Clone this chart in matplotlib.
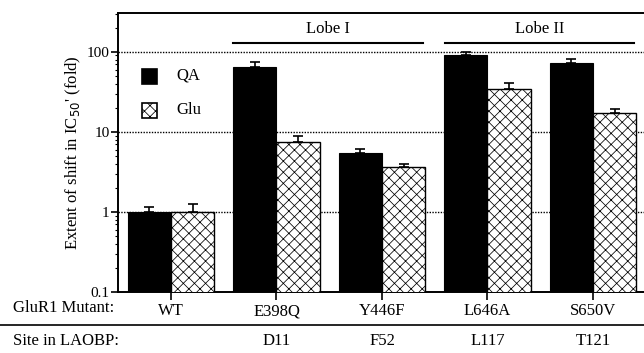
import matplotlib

matplotlib.use("Agg")
import matplotlib.pyplot as plt  # noqa: E402
import numpy as np  # noqa: E402
from matplotlib.lines import Line2D  # noqa: E402

mutants = ["WT", "E398Q", "Y446F", "L646A", "S650V"]
sites = ["", "D11", "F52", "L117", "T121"]
qa = [1.0, 65, 5.4, 92, 73]
qa_err = [0.15, 10, 0.7, 8, 9]
glu = [1.0, 7.4, 3.6, 34.5, 17.3]
glu_err = [0.26, 1.5, 0.4, 6.5, 1.8]

W, H = 644, 353
FS = 12
plt.rcParams.update({"font.family": "Liberation Serif", "hatch.linewidth": 0.55,
                     "hatch.color": "#222222"})

fig = plt.figure(figsize=(W / 100, H / 100), dpi=100)
fig.patch.set_facecolor("white")
ax = fig.add_axes([118 / W, (H - 292) / H, (646.5 - 118) / W, (292 - 13) / H])

x = np.arange(len(mutants))
bw = 0.41
ax.bar(x - bw / 2, qa, bw, color="black", edgecolor="black", lw=0.8, zorder=3,
       yerr=[np.zeros(len(qa)), qa_err], capsize=3.5,
       error_kw=dict(ecolor="black", elinewidth=1.2, capthick=1.2, zorder=4))
ax.bar(x + bw / 2, glu, bw, color="white", edgecolor="black", lw=1.0, hatch="xxx",
       zorder=3, yerr=[np.zeros(len(glu)), glu_err], capsize=3.5,
       error_kw=dict(ecolor="black", elinewidth=1.2, capthick=1.2, zorder=4))

ax.set_yscale("log")
ax.set_ylim(0.1, 305)
ax.set_xlim(-0.502, 4.507)
for v in (1, 10, 100):
    ax.axhline(v, color="black", lw=1.0, ls=(0, (1, 1)), zorder=1)

ax.set_yticks([0.1, 1, 10, 100])
ax.set_yticklabels(["0.1", "1", "10", "100"])
ax.tick_params(axis="y", which="major", direction="out", length=5, width=1.2,
               labelsize=11, pad=1)
ax.tick_params(axis="y", which="minor", direction="out", length=2.5, width=0.8)
ax.set_xticks(x)
ax.set_xticklabels(mutants)
ax.tick_params(axis="x", direction="out", length=6, width=1.2, labelsize=FS, pad=2)
for s in ax.spines.values():
    s.set_linewidth(1.4)
ax.spines["right"].set_visible(False)

ax.set_ylabel("Extent of shift in IC$_{50}$' (fold)", fontsize=FS, labelpad=3)

# legend
for yy, lab, fc, ht in [(76, "QA", "black", None), (110, "Glu", "white", "xxx")]:
    fig.patches.append(plt.Rectangle((142 / W, (H - yy - 7.5) / H), 15 / W, 15 / H,
                                     transform=fig.transFigure, fc=fc, ec="black",
                                     lw=1.2, hatch=ht))
    fig.text(176 / W, (H - yy) / H, lab, fontsize=FS, ha="left", va="center")

# lobe bars
for x0, x1, lab in [(233, 423, "Lobe I"), (445, 634, "Lobe II")]:
    fig.add_artist(Line2D([x0 / W, x1 / W], [(H - 43) / H] * 2, color="black", lw=1.5))
    fig.text((x0 + x1) / 2 / W, (H - 29) / H, lab, fontsize=FS, ha="center", va="center")

# bottom rows
fig.text(13 / W, (H - 308) / H, "GluR1 Mutant:", fontsize=FS, ha="left", va="center")
fig.add_artist(Line2D([0, 1], [(H - 325) / H] * 2, color="black", lw=1.2))
fig.text(13 / W, (H - 341) / H, "Site in LAOBP:", fontsize=FS, ha="left", va="center")
for i, s in enumerate(sites):
    if s:
        xp = ax.transData.transform((x[i], 1))[0] / W
        fig.text(xp, (H - 341) / H, s, fontsize=FS, ha="center", va="center")

fig.savefig("out.png", dpi=100, facecolor="white")
